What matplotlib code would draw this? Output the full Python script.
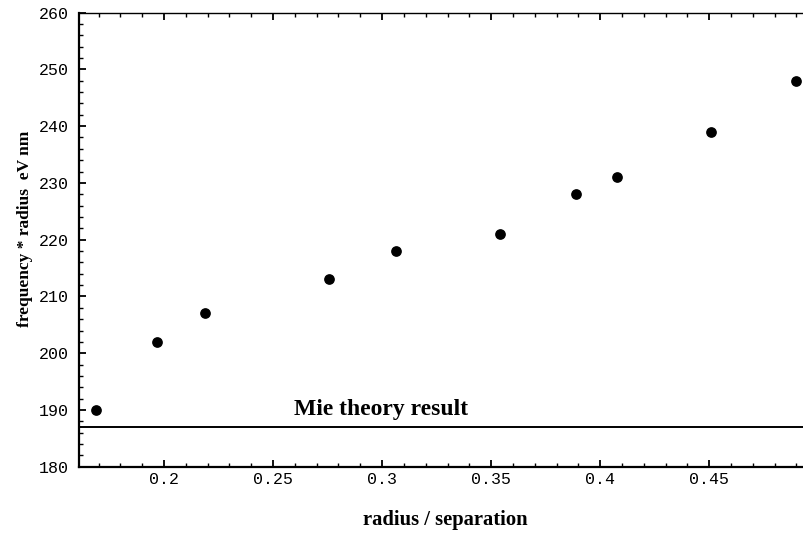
import matplotlib
matplotlib.use("Agg")
import matplotlib.pyplot as plt
from matplotlib.ticker import MultipleLocator, FormatStrFormatter

# values
ratio = [0.1688, 0.1966, 0.2187, 0.2757, 0.3066, 0.3543, 0.3888, 0.4078, 0.4509, 0.4898]
freq_radius = [190, 202, 207, 213, 218, 221, 228, 231, 239, 248]
mie_value = 187
mie_label = "Mie theory result"

serif = ["Liberation Serif", "DejaVu Serif"]
mono = ["Liberation Mono", "DejaVu Sans Mono"]

fig = plt.figure(figsize=(8.04, 5.33), dpi=100)
ax = fig.add_axes([0.0983, 0.1242, 0.9017, 0.8523])

ax.plot(ratio, freq_radius, "o", color="black", markersize=6.7, clip_on=False)
ax.axhline(mie_value, color="black", linewidth=1.4)
ax.text(0.2997, mie_value + 2.06, mie_label, ha="center", va="baseline",
        family=serif, fontweight="bold", fontsize=17)

ax.set_xlim(0.161, 0.4935)
ax.set_ylim(180, 260)

ax.xaxis.set_major_locator(MultipleLocator(0.05))
ax.xaxis.set_minor_locator(MultipleLocator(0.01))
ax.yaxis.set_major_locator(MultipleLocator(10))
ax.yaxis.set_minor_locator(MultipleLocator(2))

ax.xaxis.set_major_formatter(plt.FuncFormatter(lambda v, pos: f"{v:.2f}".rstrip("0")))
ax.yaxis.set_major_formatter(FormatStrFormatter("%d"))

ax.tick_params(which="both", direction="in", top=True, right=False,
               labeltop=False, color="black")
ax.tick_params(which="major", length=5, width=1.3)
ax.tick_params(which="minor", length=3, width=1.0)
ax.tick_params(axis="y", pad=7)
ax.tick_params(axis="x", pad=4)

for lab in ax.get_xticklabels() + ax.get_yticklabels():
    lab.set_family(mono)
    lab.set_fontsize(12)

ax.spines["right"].set_visible(False)
ax.spines["left"].set_linewidth(1.6)
ax.spines["bottom"].set_linewidth(1.6)
ax.spines["top"].set_linewidth(1.0)

ax.set_xlabel("radius / separation", family=serif, fontweight="bold", fontsize=14.9)
ax.xaxis.set_label_coords(0.5055, -0.095)
ax.xaxis.label.set_va("top")
ax.set_ylabel("frequency * radius  eV nm", family=serif, fontweight="bold", fontsize=12.5)
ax.yaxis.set_label_coords(-0.063, 0.523)

fig.savefig("out.png", dpi=100)
